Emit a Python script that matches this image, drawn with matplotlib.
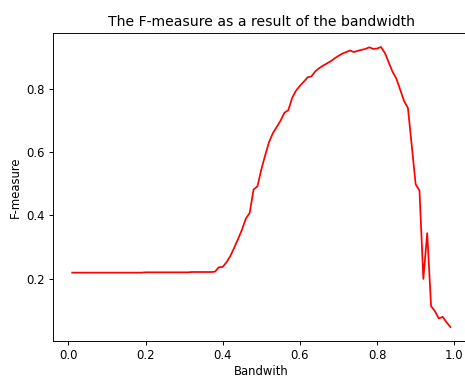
import matplotlib
matplotlib.use("Agg")
import matplotlib.pyplot as plt

# bandwidth values 0.01 .. 0.99
bandwidth = [round(0.01 * i, 2) for i in range(1, 100)]

f_measure = [
    0.219, 0.219, 0.219, 0.219, 0.219, 0.219, 0.219, 0.219, 0.219, 0.219,  # 0.01-0.10
    0.219, 0.219, 0.219, 0.219, 0.219, 0.219, 0.219, 0.219, 0.219, 0.22,   # 0.11-0.20
    0.22, 0.22, 0.22, 0.22, 0.22, 0.22, 0.22, 0.22, 0.22, 0.22,            # 0.21-0.30
    0.22, 0.221, 0.221, 0.221, 0.221, 0.221, 0.221, 0.222, 0.236, 0.237,   # 0.31-0.40
    0.252, 0.272, 0.298, 0.326, 0.355, 0.39, 0.408, 0.482, 0.492, 0.545,   # 0.41-0.50
    0.59, 0.632, 0.66, 0.68, 0.70, 0.725, 0.733, 0.772, 0.795, 0.81,       # 0.51-0.60
    0.823, 0.837, 0.84, 0.856, 0.866, 0.874, 0.881, 0.888, 0.897, 0.905,   # 0.61-0.70
    0.912, 0.917, 0.922, 0.917, 0.921, 0.924, 0.927, 0.932, 0.927, 0.928,  # 0.71-0.80
    0.933, 0.915, 0.885, 0.855, 0.833, 0.798, 0.762, 0.74, 0.62, 0.499,    # 0.81-0.90
    0.478, 0.199, 0.344, 0.113, 0.097, 0.074, 0.079, 0.062, 0.047,         # 0.91-0.99
]

# the reference looks like a shrunk render, so use a lower dpi
DPI = 84
fig = plt.figure(figsize=(465 / DPI, 378 / DPI), dpi=DPI)
ax = fig.add_axes([0.1146, 0.0979, 0.8946, 0.8148])
ax.plot(bandwidth, f_measure, color='red')
ax.set_title('The F-measure as a result of the bandwidth')
ax.set_xlabel('Bandwith', labelpad=2.5)
ax.set_ylabel('F-measure')
fig.savefig('out.png', dpi=DPI)
